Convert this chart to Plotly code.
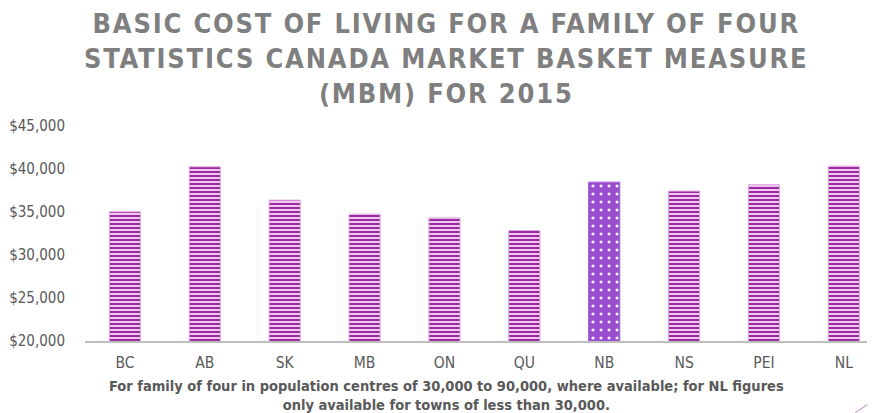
import plotly.graph_objects as go

provinces = ["BC", "AB", "SK", "MB", "ON", "QU", "NB", "NS", "PEI", "NL"]
cost = [35020, 40260, 36380, 34750, 34320, 32850, 38470, 37430, 38160, 40340]
highlight = "NB"
y_ticks = [20000, 25000, 30000, 35000, 40000, 45000]
y_labels = ["$20,000", "$25,000", "$30,000", "$35,000", "$40,000", "$45,000"]

title_lines = ["BASIC COST OF LIVING FOR A FAMILY OF FOUR",
               "STATISTICS CANADA MARKET BASKET MEASURE",
               "(MBM) FOR 2015"]
caption_lines = ["For family of four in population centres of 30,000 to 90,000, where available; for NL figures",
                 "only available for towns of less than 30,000."]

STRIPE_FG = "#9A2A9F"
STRIPE_BG = "#F2C8F2"
DOT_BG = "#9B4DCF"

x_norm = [p for p in provinces if p != highlight]
y_norm = [c for p, c in zip(provinces, cost) if p != highlight]
x_hi = [p for p in provinces if p == highlight]
y_hi = [c for p, c in zip(provinces, cost) if p == highlight]

fig = go.Figure()
fig.add_trace(go.Bar(
    x=x_norm, y=y_norm, width=0.39,
    marker=dict(color=STRIPE_BG, line=dict(color="#E0A8E0", width=1),
                pattern=dict(shape="-", fgcolor=STRIPE_FG, fgopacity=1,
                             size=4, solidity=0.5, fillmode="overlay")),
    hoverinfo="skip",
))
fig.add_trace(go.Bar(
    x=x_hi, y=y_hi, width=0.39,
    marker=dict(color=DOT_BG, line=dict(color="#A35FD2", width=1),
                pattern=dict(shape=".", fgcolor="#F6EEFB", fgopacity=1,
                             size=8, solidity=0.12, fillmode="overlay")),
    hoverinfo="skip",
))

FONT = "DejaVu Sans Condensed"
fig.update_layout(
    width=875, height=413,
    margin=dict(l=77, r=8, t=118, b=80, pad=0),
    paper_bgcolor="white", plot_bgcolor="white",
    showlegend=False, barmode="overlay",
    font=dict(family=FONT, color="#595959", size=15),
)
fig.update_xaxes(
    type="category", categoryorder="array", categoryarray=provinces,
    range=[-0.5, 9.39], showgrid=False, showline=True, linecolor="#BFBFBF", linewidth=1.5,
    ticks="", ticklabelstandoff=7, tickfont=dict(size=15.5, color="#595959"), automargin=False,
)
fig.update_yaxes(
    range=[20000, 45000], tickvals=y_ticks, ticktext=y_labels, showgrid=False,
    showline=False, zeroline=False, ticks="", ticklabelstandoff=19,
    tickfont=dict(size=15, color="#595959"), automargin=False,
)
fig.add_annotation(
    text="<br>".join('<span style="letter-spacing:1.8px">%s</span>' % t for t in title_lines),
    x=0.457, xref="paper", xanchor="center", y=1.56, yref="paper", yanchor="top",
    showarrow=False, align="center",
    font=dict(family=FONT, size=27, color="#7F7F7F", weight="bold"),
)
fig.add_annotation(
    text="<b>" + "<br>".join(caption_lines) + "</b>",
    x=0.457, xref="paper", xanchor="center", y=-0.165, yref="paper", yanchor="top",
    showarrow=False, align="center", font=dict(size=14.5, color="#595959", family=FONT),
)
fig.add_shape(type="line", xref="paper", yref="paper", x0=0.975, y0=-0.333, x1=1.03, y1=-0.197,
              line=dict(color="#C77ACB", width=1))
fig.write_html("out.html")
